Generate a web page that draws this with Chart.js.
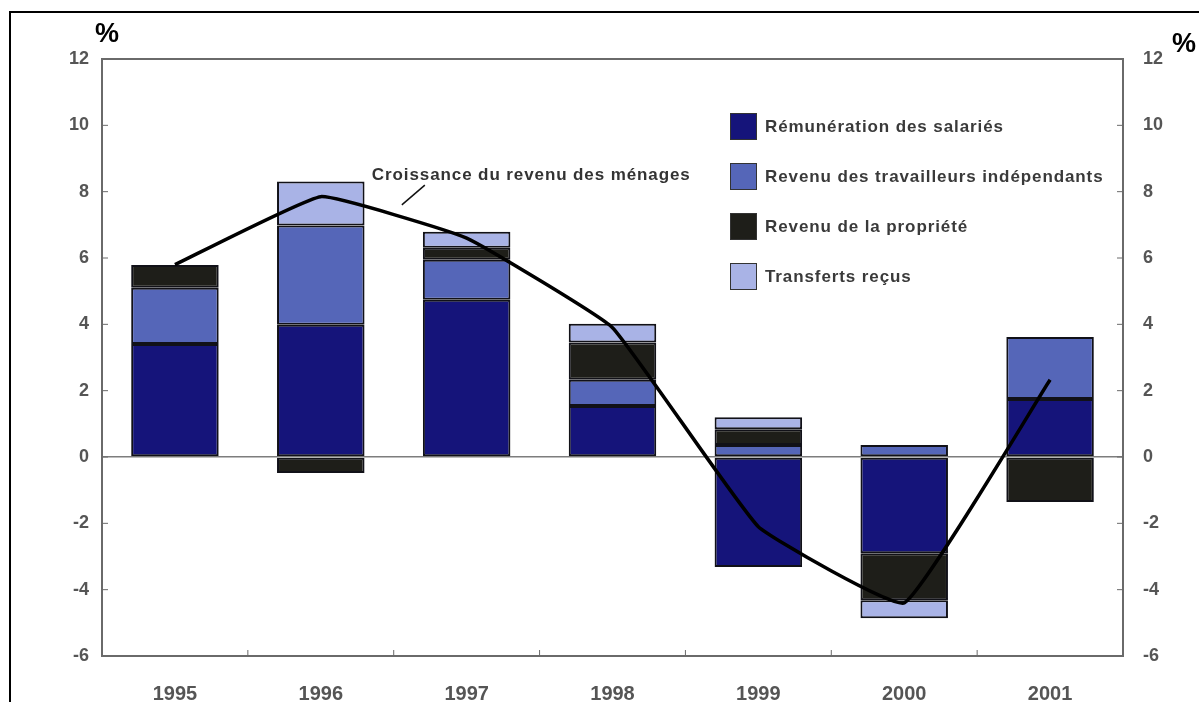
<!DOCTYPE html>
<html>
<head>
<meta charset="utf-8">
<script src="https://cdn.jsdelivr.net/npm/chart.js@4.4.1/dist/chart.umd.min.js"></script>
<style>
  body { margin: 0; background: #fff; font-family: "Liberation Sans", Arial, sans-serif; }
  #wrap { position: absolute; left: 0; top: 0; width: 1199px; height: 702px; }
  #frame { position: absolute; left: 9px; top: 11px; width: 1195px; height: 700px; border-left: 2px solid #000; border-top: 2px solid #000; }
  .pct { position: absolute; font-weight: bold; font-size: 27px; color: #000; }
  #legend { position: absolute; left: 730px; top: 113px; }
  .item { height: 50px; display: flex; align-items: flex-start; }
  .sw { width: 27px; height: 27px; border: 1px solid #333; box-sizing: border-box; margin-right: 8px; }
  .lab { font-size: 17px; font-weight: bold; color: #3a3a3a; line-height: 27px; letter-spacing: 0.9px; }
</style>
</head>
<body>
<div id="wrap">
  <canvas id="graph"></canvas>
</div>
<div id="frame"></div>
<div class="pct" style="left:95px; top:18px;">%</div>
<div class="pct" style="left:1172px; top:28px;">%</div>
<div id="legend"></div>

<script>
// Donnees (en %)
const annees = ['1995', '1996', '1997', '1998', '1999', '2000', '2001'];
const remuneration = [3.41, 3.99, 4.74, 1.54, -3.32, -2.90, 1.75];
const independants = [1.69, 2.99, 1.21, 0.79, 0.36, 0.36, 1.87];
const propriete = [0.69, -0.48, 0.36, 1.12, 0.48, -1.42, -1.36];
const transferts = [0, 1.33, 0.48, 0.57, 0.36, -0.54, 0];
const croissance = [5.8, 7.85, 6.6, 3.9, -2.1, -4.4, 2.33];
const graduations = [-6, -4, -2, 0, 2, 4, 6, 8, 10, 12];

const couleurs = ['#15147a', '#5566b8', '#1e1e19', '#a9b3e6'];
const noms = ['Rémunération des salariés', 'Revenu des travailleurs indépendants', 'Revenu de la propriété', 'Transferts reçus'];
const yFont = { family: '"Liberation Sans", Arial, sans-serif', size: 18, weight: 'bold' };
const xFont = { family: '"Liberation Sans", Arial, sans-serif', size: 20, weight: 'bold' };

// Legende en HTML
let legende = document.getElementById('legend');
noms.forEach((nom, i) => {
    let div = document.createElement('div');
    div.className = 'item';
    div.innerHTML = '<div class="sw" style="background:' + couleurs[i] + '"></div><div class="lab">' + nom + '</div>';
    legende.appendChild(div);
});

// Cadre du graphique, petites graduations et annotation de la courbe
const cadrePlugin = {
    id: 'cadre',
    afterDatasetsDraw(chart) {
        const ctx = chart.ctx;
        const a = chart.chartArea;
        const y = chart.scales.y;
        const x = chart.scales.x;
        ctx.save();
        ctx.strokeStyle = '#6a6a6a';
        ctx.lineWidth = 2;
        ctx.strokeRect(a.left, a.top, a.right - a.left, a.bottom - a.top);

        ctx.lineWidth = 1;
        ctx.beginPath();
        graduations.forEach(v => {
            let py = y.getPixelForValue(v);
            ctx.moveTo(a.left, py); ctx.lineTo(a.left + 6, py);
            ctx.moveTo(a.right, py); ctx.lineTo(a.right - 6, py);
        });
        for (let i = 1; i < annees.length; i++) {
            let px = (x.getPixelForValue(i - 1) + x.getPixelForValue(i)) / 2;
            ctx.moveTo(px, a.bottom); ctx.lineTo(px, a.bottom - 6);
        }
        ctx.stroke();

        // Annotation
        let px1 = x.getPixelForValue(1);
        let px2 = x.getPixelForValue(2);
        let tx = px1 + (px2 - px1) * 0.35;
        let ty = y.getPixelForValue(8.5);
        ctx.fillStyle = '#333';
        ctx.font = 'bold 17px "Liberation Sans", Arial, sans-serif';
        ctx.letterSpacing = '0.9px';
        ctx.textBaseline = 'middle';
        ctx.textAlign = 'left';
        ctx.fillText('Croissance du revenu des ménages', tx, ty);
        ctx.strokeStyle = '#111';
        ctx.lineWidth = 1.5;
        ctx.beginPath();
        ctx.moveTo(tx + 53, ty + 10);
        ctx.lineTo(tx + 30, y.getPixelForValue(7.6));
        ctx.stroke();
        ctx.restore();
    }
};

const barre = (i, data) => ({
    type: 'bar',
    label: noms[i],
    data: data,
    backgroundColor: couleurs[i],
    borderColor: '#111118',
    borderWidth: 2,
    borderSkipped: false,
    stack: 'revenu',
    order: 1,
    barPercentage: 0.6,
    categoryPercentage: 1
});

window.onload = function () {
    new Chart(document.getElementById('graph'), {
        data: {
            labels: annees,
            datasets: [
                {
                    type: 'line',
                    label: 'Croissance du revenu des ménages',
                    data: croissance,
                    borderColor: '#000',
                    borderWidth: 3.5,
                    pointRadius: 0,
                    tension: 0.1,
                    stack: 'courbe',
                    order: 0
                },
                barre(0, remuneration),
                barre(1, independants),
                barre(2, propriete),
                barre(3, transferts)
            ]
        },
        options: {
            responsive: true,
            maintainAspectRatio: false,
            animation: false,
            layout: { padding: { top: 59, left: 0, right: 0, bottom: 0 } },
            plugins: { legend: { display: false }, tooltip: { enabled: false } },
            scales: {
                x: {
                    stacked: true,
                    grid: { display: false },
                    border: { display: false },
                    ticks: { color: '#555', font: xFont, padding: 18 },
                    afterFit: s => { s.height = 46; }
                },
                y: {
                    stacked: true,
                    position: 'left',
                    min: -6, max: 12,
                    grid: {
                        drawTicks: false,
                        lineWidth: 1.5,
                        color: c => c.tick && c.tick.value === 0 ? '#7d7d7d' : 'rgba(0,0,0,0)'
                    },
                    border: { display: false },
                    ticks: { stepSize: 2, color: '#555', font: yFont, padding: 13 },
                    afterFit: s => { s.width = 102; }
                },
                y2: {
                    position: 'right',
                    min: -6, max: 12,
                    grid: { display: false, drawTicks: false },
                    border: { display: false },
                    ticks: { stepSize: 2, color: '#555', font: yFont, padding: 20 },
                    afterFit: s => { s.width = 76; }
                }
            }
        },
        plugins: [cadrePlugin]
    });
};
</script>
</body>
</html>
